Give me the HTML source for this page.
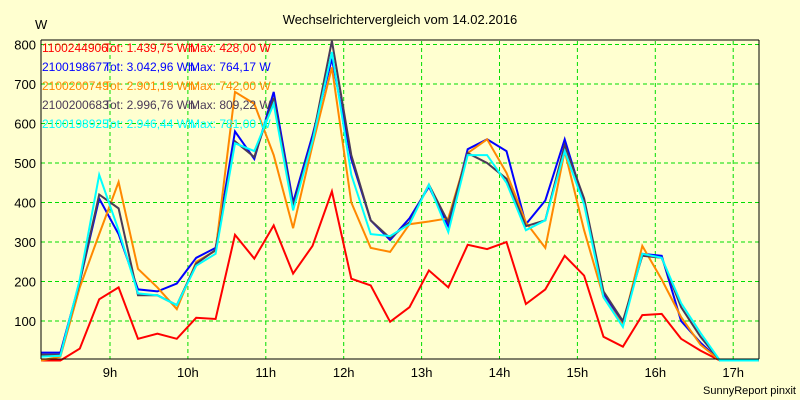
<!DOCTYPE html>
<html><head><meta charset="utf-8"><style>
body{margin:0;background:#ffffd0;}
svg{display:block;font-family:"Liberation Sans",sans-serif;}
</style></head><body>
<svg id="c" width="800" height="400">
<rect width="800" height="400" fill="#ffffd0"/>
<text x="400" y="24" text-anchor="middle" font-size="13" fill="#000">Wechselrichtervergleich vom 14.02.2016</text>
<text x="35" y="29" font-size="13" fill="#000">W</text>
<text x="796" y="394" text-anchor="end" font-size="11" fill="#000">SunnyReport pinxit</text>
<g id="grid"></g><g id="series"></g><g id="legend"></g>
<line x1="41" y1="40" x2="41" y2="359" stroke="#000"/>
<line x1="41" y1="359" x2="759" y2="359" stroke="#000"/>
<line x1="759" y1="40" x2="759" y2="359" stroke="#000"/>
<line x1="41" y1="40" x2="759" y2="40" stroke="#000"/>
</svg>
<script>
const yTicks=[100,200,300,400,500,600,700,800];
const xTicks=[9,10,11,12,13,14,15,16,17];
const xTickLabels=["9h","10h","11h","12h","13h","14h","15h","16h","17h"];
const startHour=8.114, stepHour=0.249;
const red=[0,0,30,155,185,55,68,55,108,105,318,258,342,220,290,428,207,190,98,135,228,185,293,282,300,143,180,265,215,60,35,115,118,55,25,0,0,0];
const blue=[20,20,200,410,320,180,175,195,260,285,580,510,680,400,570,764,510,355,305,360,440,340,535,560,530,345,405,560,400,170,95,270,265,100,45,0,0,0];
const orange=[0,10,185,320,452,232,185,130,250,278,680,650,520,335,545,742,400,285,275,345,352,360,525,560,475,350,285,530,330,160,90,290,205,110,40,0,0,0];
const dark=[15,15,200,420,385,165,165,140,245,280,555,515,665,390,560,809,520,355,310,350,445,350,525,500,460,340,355,545,410,175,100,265,260,135,60,0,0,0];
const cyan=[10,12,205,470,330,170,165,140,240,270,550,530,650,380,555,781,470,320,315,345,445,325,520,520,450,330,355,530,395,160,85,270,260,145,70,0,0,0];
const seriesNames=["1100244906","2100198677","2100200749","2100200683","2100198925"];
const seriesTot=["1.439,75","3.042,96","2.901,19","2.996,76","2.946,44"];
const seriesMax=["428,00","764,17","742,00","809,22","781,00"];
const colors=["#ff0000","#0000ff","#ff8800","#4a3a58","#00ffff"];
const data=[red,blue,orange,dark,cyan];
const NS="http://www.w3.org/2000/svg";
const X=h=>110+(h-9)*77.9;
const Y=v=>360.5-v*0.395;
function mk(tag,attrs,parent){const e=document.createElementNS(NS,tag);for(const k in attrs)e.setAttribute(k,attrs[k]);parent.appendChild(e);return e;}
const g=document.getElementById('grid');
yTicks.forEach(t=>{
 const l=mk('line',{x1:41,x2:759,y1:Y(t),y2:Y(t),stroke:'#00dd00','stroke-dasharray':'4,3'},g);
 
 
 const tx=mk('text',{x:36,y:Y(t)+5,'text-anchor':'end','font-size':13},g);
 tx.textContent=t;
 
 
});
xTicks.forEach((t,i)=>{
 const l=mk('line',{x1:X(t),x2:X(t),y1:41,y2:359,stroke:'#00dd00','stroke-dasharray':'4,3'},g);
 
 
 const tx=mk('text',{x:X(t),y:377,'text-anchor':'middle','font-size':13},g);
 tx.textContent=xTickLabels[i];
 
 
});
const sg=document.getElementById('series');
data.forEach((arr,s)=>{
 const pts=arr.map((v,i)=>X(startHour+i*stepHour).toFixed(1)+','+Y(v).toFixed(1)).join(' ');
 const p=mk('polyline',{points:pts,fill:'none',stroke:colors[s],'stroke-width':2},sg);
 
 
});
const lg=document.getElementById('legend');
seriesNames.forEach((n,s)=>{
 const y=52+s*19;
 const a=mk('text',{x:42,y:y,'font-size':12,fill:colors[s]},lg);
 a.textContent=n;
 
 
 const b=mk('text',{x:104,y:y,'font-size':12,fill:colors[s]},lg);
 b.textContent='Tot: '+seriesTot[s]+' Wh';
 
 
 const c=mk('text',{x:190,y:y,'font-size':12,fill:colors[s]},lg);
 c.textContent='Max: '+seriesMax[s]+' W';
 
 
});
</script>
</body></html>
